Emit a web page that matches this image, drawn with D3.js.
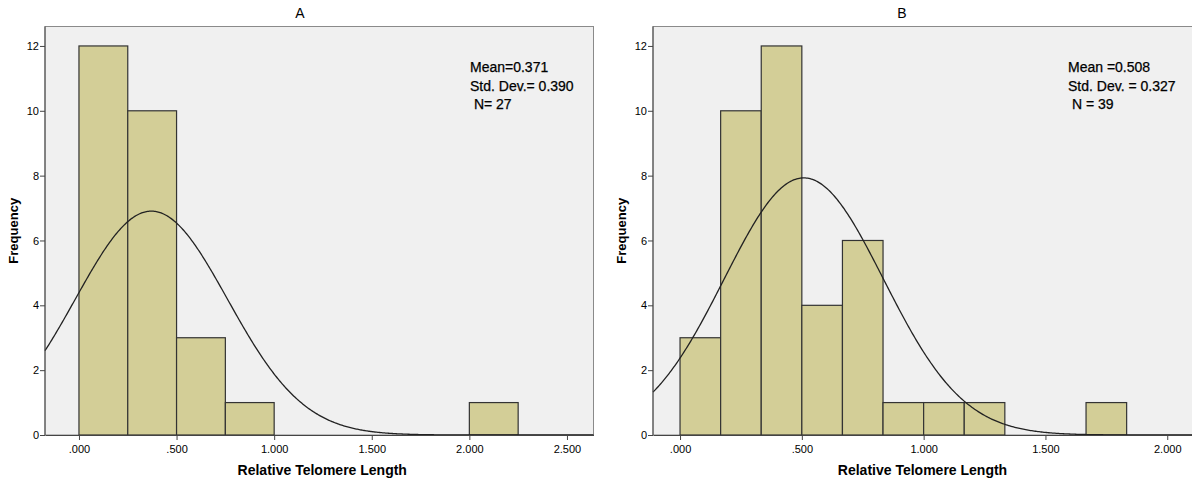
<!DOCTYPE html>
<html>
<head>
<meta charset="utf-8">
<script src="https://cdn.jsdelivr.net/npm/d3@7/dist/d3.min.js"></script>
<style>
html,body{margin:0;padding:0;background:#fff;}
svg{display:block;}
text{font-family:"Liberation Sans",Arial,sans-serif;fill:#000;}
</style>
</head>
<body>
<svg id="chart" width="1192" height="484"></svg>
<script>
// ---- Data ----
const titles = ["A", "B"];
const binWidthA = 0.25;
const binStartsA = [0, 0.25, 0.5, 0.75, 1.0, 1.25, 1.5, 1.75, 2.0];
const countsA = [12, 10, 3, 1, 0, 0, 0, 0, 1];
const binWidthB = 1 / 6;
const binStartsB = [0, 1/6, 2/6, 3/6, 4/6, 5/6, 1, 7/6, 8/6, 9/6, 10/6];
const countsB = [3, 10, 12, 4, 6, 1, 1, 1, 0, 0, 1];
const meanA = 0.371, sdA = 0.390, nA = 27;
const meanB = 0.508, sdB = 0.327, nB = 39;
const statsA = ["Mean=0.371", "Std. Dev.= 0.390", " N= 27"];
const statsB = ["Mean =0.508", "Std. Dev. = 0.327", " N = 39"];
const xTicksA = [0, 0.5, 1.0, 1.5, 2.0, 2.5];
const xTicksB = [0, 0.5, 1.0, 1.5, 2.0];
const yTicks = [0, 2, 4, 6, 8, 10, 12];
const xLabel = "Relative Telomere Length";
const yLabel = "Frequency";

const svg = d3.select("#chart");
const fmt = v => { const s = v.toFixed(3); return s.startsWith("0") ? s.slice(1) : s; };

function panel(cfg) {
  const g = svg.append("g");
  const x = d3.scaleLinear().domain(cfg.xDomain).range([cfg.left, cfg.right]);
  const y = d3.scaleLinear().domain([0, 12.6]).range([435, 26.5]);

  // plot background
  g.append("rect").attr("x", cfg.left).attr("y", y(12.6))
    .attr("width", cfg.right - cfg.left).attr("height", y(0) - y(12.6))
    .attr("fill", "#f0f0f0").attr("stroke", "#8a8a8a").attr("stroke-width", 1);

  // bars
  const bins = cfg.starts.map((s, i) => ({x0: s, x1: s + cfg.bw, c: cfg.counts[i]})).filter(d => d.c > 0);
  g.selectAll("rect.bar").data(bins).enter().append("rect")
    .attr("class", "bar")
    .attr("x", d => x(d.x0)).attr("y", d => y(d.c))
    .attr("width", d => x(d.x1) - x(d.x0)).attr("height", d => y(0) - y(d.c))
    .attr("fill", "#d3ce97").attr("stroke", "#333").attr("stroke-width", 1.2);

  // normal curve
  const pts = d3.range(cfg.xDomain[0], cfg.xDomain[1] + 0.0001, 0.005).map(v => {
    const z = (v - cfg.mean) / cfg.sd;
    return [v, cfg.n * cfg.bw * Math.exp(-0.5 * z * z) / (cfg.sd * Math.sqrt(2 * Math.PI))];
  });
  g.append("path").datum(pts)
    .attr("d", d3.line().x(d => x(d[0])).y(d => y(d[1])))
    .attr("fill", "none").attr("stroke", "#222").attr("stroke-width", 1.3);

  // axes
  const xAxis = d3.axisBottom(x).tickValues(cfg.xTicks).tickFormat(fmt).tickSize(5).tickSizeOuter(0);
  const gx = g.append("g").attr("transform", `translate(0,${y(0)})`).call(xAxis);
  gx.select(".domain").attr("stroke", "#444");
  gx.selectAll(".tick line").attr("stroke", "#444");
  gx.selectAll(".tick text").attr("font-size", 11).attr("dy", "0.9em").attr("fill", "#222")
    .style("font-family", "'Liberation Sans', Arial, sans-serif");

  const yAxis = d3.axisLeft(y).tickValues(yTicks).tickSize(5).tickSizeOuter(0);
  const gy = g.append("g").attr("transform", `translate(${cfg.left},0)`).call(yAxis);
  gy.select(".domain").attr("stroke", "#444").attr("d", `M-0,${y(12.6)}V${y(0)}`);
  gy.selectAll(".tick line").attr("stroke", "#444");
  gy.selectAll(".tick text").attr("font-size", 11).attr("fill", "#222").attr("x", -6)
    .style("font-family", "'Liberation Sans', Arial, sans-serif");

  // titles
  g.append("text").attr("x", cfg.titleX).attr("y", 18).attr("text-anchor", "middle")
    .attr("font-size", 14).text(cfg.title);
  g.append("text").attr("x", (cfg.left + Math.min(cfg.right, 1192)) / 2 + cfg.xlabOff).attr("y", 475)
    .attr("text-anchor", "middle").attr("font-size", 14).attr("font-weight", "bold").text(xLabel);
  g.append("text").attr("transform", `translate(${cfg.left - 27},${(y(0) + y(12.6)) / 2}) rotate(-90)`)
    .attr("text-anchor", "middle").attr("font-size", 13).attr("font-weight", "bold").text(yLabel);

  // stats
  cfg.stats.forEach((s, i) => {
    g.append("text").attr("x", cfg.statX).attr("y", 72 + i * 18.5)
      .attr("font-size", 14).attr("xml:space", "preserve").style("white-space", "pre")
      .attr("stroke", "#000").attr("stroke-width", 0.25)
      .text(s);
  });
}

panel({title: titles[0], left: 45, right: 593.5, xDomain: [-0.174, 2.636],
  starts: binStartsA, counts: countsA, bw: binWidthA, mean: meanA, sd: sdA, n: nA,
  xTicks: xTicksA, stats: statsA, statX: 470, titleX: 300, xlabOff: 3});
panel({title: titles[1], left: 653, right: 1205, xDomain: [-0.111, 2.155],
  starts: binStartsB, counts: countsB, bw: binWidthB, mean: meanB, sd: sdB, n: nB,
  xTicks: xTicksB, stats: statsB, statX: 1068, titleX: 902, xlabOff: 0});
</script>
</body>
</html>
